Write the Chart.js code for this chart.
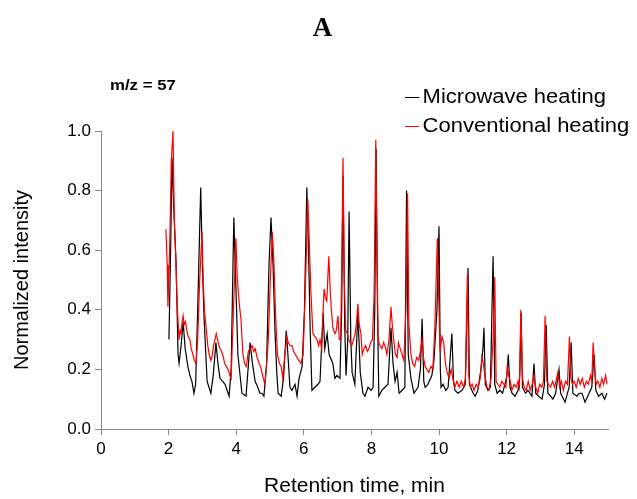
<!DOCTYPE html>
<html lang="en">
<head>
    <meta charset="UTF-8">
    <title>m/z = 57 chromatogram</title>
    <script src="https://cdn.jsdelivr.net/npm/chart.js@4.4.1/dist/chart.umd.min.js"></script>
    <style>
        body { margin: 0; background: #fff; font-family: "Liberation Sans", Arial, sans-serif; }
        .wrap { position: relative; width: 637px; height: 499px; }
        canvas { position: absolute; left: 0; top: 0; }
        .panel { position: absolute; left: 0; top: 12px; width: 645px; text-align: center; font: bold 27px "Liberation Serif", "Times New Roman", serif; }
        .mz { position: absolute; left: 110px; top: 76px; font: bold 15px "Liberation Sans", Arial, sans-serif; transform: scaleX(1.12); transform-origin: left top; }
        .legend { position: absolute; left: 405px; top: 82px; font: 20px "Liberation Sans", Arial, sans-serif; transform: scaleX(1.1); transform-origin: left top; }
        .legend div { height: 29px; line-height: 28px; white-space: nowrap; }
        .legend span { display: inline-block; width: 13px; height: 1px; vertical-align: middle; margin-right: 3px; }
    </style>
</head>
<body>
<div class="wrap">
    <canvas id="chrom" width="637" height="499"></canvas>
    <div class="panel">A</div>
    <div class="mz">m/z = 57</div>
    <div class="legend">
        <div><span style="background:#000"></span>Microwave heating</div>
        <div><span style="background:#ff0000"></span>Conventional heating</div>
    </div>
</div>

<script>
    // retention time (min) / normalized intensity
    const mwTime = [2.01, 2.06, 2.10, 2.15, 2.22, 2.28, 2.31, 2.37, 2.43, 2.49, 2.57, 2.63, 2.69, 2.75, 2.80, 2.86, 2.95, 3.00, 3.05, 3.14,
        3.25, 3.32, 3.40, 3.46, 3.52, 3.60, 3.67, 3.73, 3.79, 3.85, 3.93, 3.99, 4.05, 4.17, 4.29, 4.35, 4.41, 4.48, 4.56, 4.64,
        4.70, 4.76, 4.82, 4.90, 4.97, 5.03, 5.09, 5.15, 5.20, 5.24, 5.33, 5.40, 5.48, 5.53, 5.59, 5.65, 5.74, 5.80, 5.86, 5.95,
        6.02, 6.09, 6.15, 6.18, 6.24, 6.33, 6.42, 6.48, 6.57, 6.62, 6.69, 6.75, 6.86, 6.92, 6.98, 7.07, 7.12, 7.16, 7.21, 7.25,
        7.30, 7.34, 7.39, 7.43, 7.51, 7.60, 7.67, 7.75, 7.81, 7.90, 7.99, 8.05, 8.10, 8.14, 8.18, 8.22, 8.31, 8.40, 8.49, 8.58,
        8.64, 8.70, 8.76, 8.82, 8.91, 8.99, 9.04, 9.09, 9.17, 9.26, 9.38, 9.45, 9.50, 9.55, 9.59, 9.67, 9.79, 9.85, 9.94, 10.00,
        10.04, 10.06, 10.12, 10.20, 10.27, 10.38, 10.43, 10.47, 10.56, 10.68, 10.78, 10.86, 10.90, 11.01, 11.07, 11.15, 11.24, 11.30, 11.33, 11.37,
        11.45, 11.52, 11.60, 11.65, 11.72, 11.80, 11.88, 11.95, 12.01, 12.05, 12.10, 12.16, 12.25, 12.34, 12.39, 12.43, 12.47, 12.56, 12.63, 12.75,
        12.81, 12.86, 12.95, 13.05, 13.12, 13.17, 13.22, 13.30, 13.37, 13.45, 13.55, 13.60, 13.73, 13.85, 13.91, 13.96, 14.08, 14.15, 14.23, 14.32,
        14.44, 14.52, 14.59, 14.64, 14.72, 14.82, 14.90, 14.97];
    const mwIntensity = [0.30, 0.60, 0.91, 0.75, 0.56, 0.25, 0.22, 0.28, 0.36, 0.27, 0.21, 0.18, 0.16, 0.12, 0.15, 0.40, 0.81, 0.55, 0.37, 0.16,
        0.12, 0.18, 0.29, 0.22, 0.17, 0.16, 0.15, 0.13, 0.11, 0.20, 0.71, 0.48, 0.25, 0.12, 0.11, 0.20, 0.29, 0.22, 0.16, 0.14,
        0.12, 0.12, 0.11, 0.22, 0.55, 0.71, 0.55, 0.32, 0.19, 0.12, 0.11, 0.17, 0.33, 0.25, 0.14, 0.13, 0.15, 0.11, 0.17, 0.21,
        0.40, 0.81, 0.55, 0.37, 0.13, 0.14, 0.15, 0.16, 0.39, 0.27, 0.32, 0.25, 0.22, 0.17, 0.18, 0.17, 0.40, 0.85, 0.35, 0.18,
        0.30, 0.73, 0.30, 0.19, 0.15, 0.39, 0.19, 0.12, 0.11, 0.14, 0.13, 0.14, 0.40, 0.94, 0.40, 0.11, 0.13, 0.14, 0.15, 0.34,
        0.22, 0.16, 0.19, 0.12, 0.13, 0.14, 0.80, 0.25, 0.17, 0.12, 0.14, 0.20, 0.37, 0.16, 0.14, 0.15, 0.18, 0.23, 0.40, 0.68,
        0.20, 0.14, 0.15, 0.13, 0.14, 0.32, 0.16, 0.13, 0.12, 0.13, 0.15, 0.54, 0.15, 0.12, 0.11, 0.13, 0.20, 0.27, 0.34, 0.15,
        0.13, 0.14, 0.58, 0.15, 0.12, 0.13, 0.12, 0.15, 0.18, 0.25, 0.14, 0.12, 0.11, 0.13, 0.18, 0.39, 0.14, 0.12, 0.13, 0.11,
        0.22, 0.12, 0.11, 0.10, 0.15, 0.35, 0.12, 0.11, 0.10, 0.12, 0.20, 0.12, 0.09, 0.14, 0.29, 0.12, 0.11, 0.12, 0.12, 0.09,
        0.12, 0.14, 0.25, 0.13, 0.11, 0.12, 0.10, 0.12];

    const convTime = [1.92, 1.96, 1.98, 2.03, 2.08, 2.13, 2.17, 2.22, 2.25, 2.28, 2.31, 2.34, 2.37, 2.40, 2.43, 2.46, 2.50, 2.54, 2.58, 2.63,
        2.67, 2.72, 2.76, 2.81, 2.86, 2.92, 2.99, 3.02, 3.06, 3.11, 3.16, 3.20, 3.25, 3.28, 3.33, 3.37, 3.41, 3.45, 3.49, 3.52,
        3.57, 3.62, 3.66, 3.71, 3.76, 3.81, 3.85, 3.92, 3.99, 4.03, 4.09, 4.14, 4.20, 4.25, 4.30, 4.36, 4.41, 4.47, 4.52, 4.56,
        4.62, 4.68, 4.72, 4.78, 4.85, 4.90, 4.95, 5.01, 5.07, 5.12, 5.15, 5.19, 5.22, 5.28, 5.33, 5.38, 5.44, 5.50, 5.54, 5.60,
        5.65, 5.70, 5.75, 5.80, 5.85, 5.92, 5.98, 6.04, 6.12, 6.17, 6.21, 6.27, 6.33, 6.39, 6.44, 6.48, 6.53, 6.57, 6.60, 6.64,
        6.68, 6.74, 6.78, 6.81, 6.86, 6.92, 6.96, 7.01, 7.05, 7.09, 7.13, 7.16, 7.20, 7.24, 7.29, 7.33, 7.37, 7.42, 7.47, 7.52,
        7.56, 7.60, 7.64, 7.69, 7.73, 7.78, 7.83, 7.88, 7.93, 7.98, 8.03, 8.08, 8.13, 8.17, 8.20, 8.25, 8.31, 8.36, 8.40, 8.46,
        8.52, 8.58, 8.61, 8.66, 8.71, 8.76, 8.80, 8.85, 8.91, 8.96, 9.02, 9.07, 9.11, 9.17, 9.22, 9.28, 9.34, 9.40, 9.46, 9.50,
        9.54, 9.59, 9.64, 9.70, 9.76, 9.82, 9.88, 9.95, 9.99, 10.03, 10.09, 10.14, 10.19, 10.24, 10.30, 10.36, 10.41, 10.47, 10.53, 10.60,
        10.66, 10.73, 10.78, 10.84, 10.88, 10.93, 10.98, 11.04, 11.10, 11.16, 11.22, 11.27, 11.31, 11.36, 11.42, 11.48, 11.54, 11.60, 11.65, 11.69,
        11.74, 11.80, 11.86, 11.92, 11.98, 12.02, 12.06, 12.11, 12.16, 12.22, 12.28, 12.34, 12.38, 12.42, 12.47, 12.52, 12.58, 12.64, 12.70, 12.76,
        12.81, 12.86, 12.92, 12.98, 13.04, 13.09, 13.14, 13.19, 13.24, 13.30, 13.36, 13.42, 13.48, 13.52, 13.57, 13.62, 13.68, 13.74, 13.80, 13.86,
        13.90, 13.95, 14.00, 14.06, 14.12, 14.18, 14.24, 14.30, 14.36, 14.42, 14.48, 14.52, 14.56, 14.60, 14.65, 14.70, 14.76, 14.82, 14.87, 14.93,
        14.97];
    const convIntensity = [0.67, 0.55, 0.41, 0.60, 0.90, 1.00, 0.70, 0.55, 0.43, 0.36, 0.30, 0.33, 0.32, 0.36, 0.38, 0.35, 0.36, 0.33, 0.31, 0.30,
        0.27, 0.25, 0.23, 0.22, 0.30, 0.50, 0.66, 0.51, 0.40, 0.34, 0.28, 0.25, 0.23, 0.24, 0.28, 0.30, 0.32, 0.30, 0.28, 0.27,
        0.26, 0.24, 0.22, 0.21, 0.20, 0.18, 0.17, 0.40, 0.64, 0.51, 0.42, 0.37, 0.25, 0.22, 0.21, 0.26, 0.27, 0.28, 0.26, 0.27,
        0.24, 0.22, 0.21, 0.18, 0.15, 0.22, 0.30, 0.50, 0.66, 0.55, 0.43, 0.32, 0.25, 0.22, 0.21, 0.17, 0.25, 0.31, 0.29, 0.28,
        0.28, 0.26, 0.25, 0.24, 0.23, 0.22, 0.25, 0.45, 0.77, 0.60, 0.46, 0.32, 0.31, 0.30, 0.28, 0.30, 0.27, 0.39, 0.47, 0.44,
        0.43, 0.58, 0.47, 0.41, 0.34, 0.32, 0.33, 0.38, 0.30, 0.30, 0.60, 0.91, 0.50, 0.33, 0.32, 0.30, 0.29, 0.28, 0.30, 0.32,
        0.36, 0.42, 0.35, 0.32, 0.25, 0.27, 0.28, 0.26, 0.27, 0.29, 0.30, 0.45, 0.97, 0.55, 0.30, 0.28, 0.27, 0.29, 0.28, 0.25,
        0.30, 0.41, 0.36, 0.30, 0.25, 0.24, 0.29, 0.27, 0.25, 0.23, 0.40, 0.79, 0.35, 0.25, 0.22, 0.21, 0.24, 0.23, 0.27, 0.30,
        0.24, 0.21, 0.20, 0.19, 0.21, 0.20, 0.35, 0.64, 0.45, 0.26, 0.31, 0.29, 0.22, 0.19, 0.17, 0.20, 0.17, 0.14, 0.16, 0.14,
        0.16, 0.14, 0.17, 0.52, 0.18, 0.14, 0.15, 0.13, 0.15, 0.14, 0.17, 0.24, 0.22, 0.18, 0.14, 0.13, 0.17, 0.30, 0.51, 0.16,
        0.15, 0.14, 0.16, 0.15, 0.14, 0.21, 0.18, 0.16, 0.13, 0.15, 0.14, 0.16, 0.14, 0.40, 0.17, 0.14, 0.13, 0.16, 0.13, 0.15,
        0.18, 0.14, 0.12, 0.15, 0.14, 0.16, 0.38, 0.16, 0.15, 0.14, 0.16, 0.14, 0.17, 0.19, 0.14, 0.16, 0.13, 0.16, 0.15, 0.31,
        0.17, 0.15, 0.16, 0.14, 0.17, 0.15, 0.17, 0.14, 0.16, 0.15, 0.18, 0.16, 0.29, 0.20, 0.15, 0.16, 0.14, 0.17, 0.15, 0.18,
        0.15];

    const xTicks = [0, 2, 4, 6, 8, 10, 12, 14];
    const yTicks = [0.0, 0.2, 0.4, 0.6, 0.8, 1.0];

    function toPoints(xs, ys) {
        return xs.map((x, i) => ({ x: x, y: ys[i] }));
    }

    const axisGray = "#888888";
    const sans = "'Liberation Sans', Arial, sans-serif";

    new Chart(document.getElementById("chrom"), {
        type: "scatter",
        data: {
            datasets: [
                { label: "Microwave heating", data: toPoints(mwTime, mwIntensity), borderColor: "#000000",
                  borderWidth: 1.2, showLine: true, pointRadius: 0, order: 1 },
                { label: "Conventional heating", data: toPoints(convTime, convIntensity), borderColor: "#ff0000",
                  borderWidth: 1.2, showLine: true, pointRadius: 0, order: 0 }
            ]
        },
        options: {
            responsive: false,
            animation: false,
            layout: { padding: { left: 0, top: 131, right: 29, bottom: 0 } },
            plugins: { legend: { display: false }, tooltip: { enabled: false } },
            scales: {
                x: {
                    type: "linear", min: 0, max: 15,
                    afterFit: s => { s.height = 70; },
                    afterBuildTicks: s => { s.ticks = xTicks.map(v => ({ value: v })); },
                    border: { color: axisGray, width: 1 },
                    grid: { drawOnChartArea: false, color: axisGray, tickLength: 6 },
                    ticks: { color: "#000", font: { family: sans, size: 17 }, padding: 4, maxRotation: 0 },
                    title: { display: true, text: "Retention time, min", color: "#000",
                             font: { family: sans, size: 21 }, padding: { top: 4, bottom: 0 } }
                },
                y: {
                    type: "linear", min: 0, max: 1,
                    afterFit: s => { s.width = 101; },
                    afterBuildTicks: s => { s.ticks = yTicks.map(v => ({ value: v })); },
                    border: { color: axisGray, width: 1 },
                    grid: { drawOnChartArea: false, color: axisGray, tickLength: 6 },
                    ticks: { color: "#000", font: { family: sans, size: 17 }, padding: 4, callback: v => v.toFixed(1) },
                    title: { display: true, text: "Normalized intensity", color: "#000",
                             font: { family: sans, size: 20 }, padding: { top: 10, bottom: 4 } }
                }
            }
        }
    });
</script>
</body>
</html>
